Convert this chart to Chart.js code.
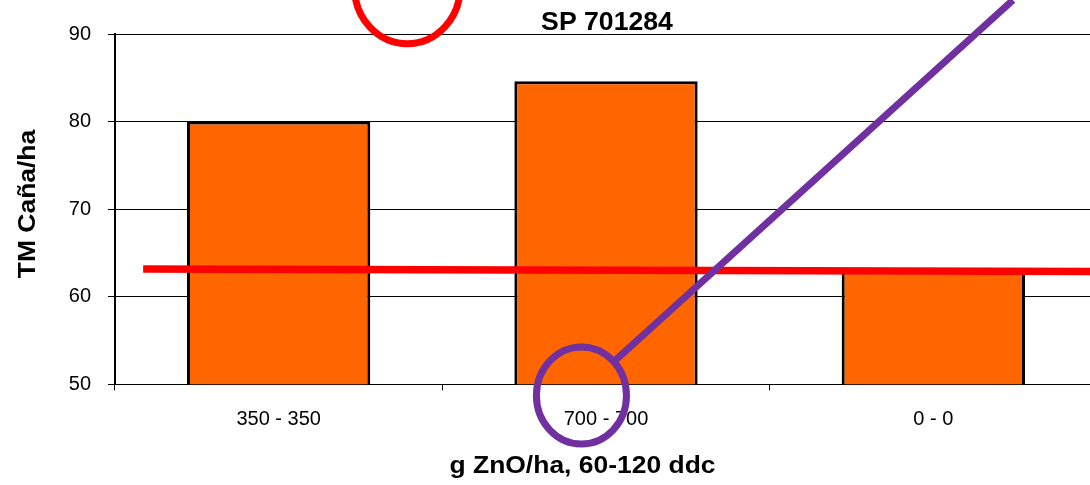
<!DOCTYPE html>
<html>
<head>
<meta charset="utf-8">
<script src="https://cdn.jsdelivr.net/npm/chart.js@4/dist/chart.umd.min.js"></script>
<style>
  html, body { margin: 0; padding: 0; background: #fff; overflow: hidden; }
  #wrap { width: 1097px; height: 485px; }
</style>
</head>
<body>
<div id="wrap"><canvas id="c" width="1097" height="485"></canvas></div>
<script>
// ---- data ----
const categories = ['350 - 350', '700 - 700', '0 - 0'];
const yieldValues = [80.0, 84.6, 62.9];
const yTickValues = [50, 60, 70, 80, 90];
const chartTitle = 'SP 701284';
const xAxisTitle = 'g ZnO/ha, 60-120 ddc';
const yAxisTitle = 'TM Caña/ha';

// hand-drawn annotations, in data units (category index, TM value)
const redLinePts = [[-0.414, 63.16], [2.482, 62.88]];
const purpleLinePts = [[1.029, 52.77], [2.243, 93.87]];
const redEllipse = [0.393, 95.35, 0.1615, 6.45];      // cx, cy, rx, ry
const purpleEllipse = [0.925, 48.72, 0.1376, 5.54];

const FONT = '"Liberation Sans", Arial, sans-serif';

const overlay = {
  id: 'overlay',
  afterDatasetsDraw(chart) {
    const ctx = chart.ctx;
    const xs = chart.scales.x, ys = chart.scales.y;
    const px = v => xs.getPixelForValue(v);
    const py = v => ys.getPixelForValue(v);
    ctx.save();
    ctx.lineCap = 'butt';
    ctx.strokeStyle = '#FF0000';
    ctx.lineWidth = 7.5;
    ctx.beginPath();
    ctx.moveTo(px(redLinePts[0][0]), py(redLinePts[0][1]));
    ctx.lineTo(px(redLinePts[1][0]), py(redLinePts[1][1]));
    ctx.stroke();
    ctx.strokeStyle = '#7030A0';
    ctx.lineWidth = 7;
    ctx.beginPath();
    ctx.moveTo(px(purpleLinePts[0][0]), py(purpleLinePts[0][1]));
    ctx.lineTo(px(purpleLinePts[1][0]), py(purpleLinePts[1][1]));
    ctx.stroke();
    const ell = (e, color) => {
      const cx = px(e[0]), cy = py(e[1]);
      const rx = Math.abs(px(e[0] + e[2]) - cx);
      const ry = Math.abs(py(e[1] + e[3]) - cy);
      ctx.strokeStyle = color;
      ctx.lineWidth = 7;
      ctx.beginPath();
      ctx.ellipse(cx, cy, rx, ry, 0, 0, Math.PI * 2);
      ctx.stroke();
    };
    ell(redEllipse, '#FF0000');
    ell(purpleEllipse, '#7030A0');
    ctx.restore();
  },
  afterDraw(chart) {
    const ctx = chart.ctx;
    const ca = chart.chartArea;
    ctx.save();
    ctx.fillStyle = '#000';
    ctx.textAlign = 'center';
    ctx.textBaseline = 'alphabetic';
    ctx.save();
    ctx.font = 'bold 25px ' + FONT;
    ctx.translate((ca.left + ca.right) / 2 + 1, 30);
    ctx.scale(1.065, 1);
    ctx.fillText(chartTitle, 0, 0);
    ctx.restore();
    ctx.save();
    ctx.font = 'bold 23px ' + FONT;
    ctx.translate(582.5, 473);
    ctx.scale(1.15, 1);
    ctx.fillText(xAxisTitle, 0, 0);
    ctx.restore();
    ctx.save();
    ctx.font = 'bold 23px ' + FONT;
    ctx.translate(35, 204);
    ctx.rotate(-Math.PI / 2);
    ctx.scale(1.15, 1);
    ctx.fillText(yAxisTitle, 0, 0);
    ctx.restore();
    ctx.restore();
  }
};

new Chart(document.getElementById('c'), {
  type: 'bar',
  data: {
    labels: categories,
    datasets: [{
      data: yieldValues,
      backgroundColor: '#FF6600',
      borderColor: '#000000',
      borderWidth: 3,
      borderSkipped: false,
      categoryPercentage: 1,
      barPercentage: 0.56
    }]
  },
  options: {
    responsive: false,
    animation: false,
    devicePixelRatio: 1,
    layout: { padding: { top: 34, left: 0, right: 0, bottom: 0 } },
    plugins: {
      legend: { display: false },
      title: { display: false },
      tooltip: { enabled: false }
    },
    scales: {
      x: {
        grid: { display: true, drawOnChartArea: false, drawTicks: true, tickLength: 6, color: '#000', lineWidth: 1 },
        border: { display: true, color: '#000', width: 1 },
        ticks: { color: '#000', font: { family: FONT, size: 20 }, padding: 17, maxRotation: 0 },
        afterFit(s) { s.height = 100.7; }
      },
      y: {
        min: 50, max: 90,
        afterBuildTicks(s) { s.ticks = yTickValues.map(v => ({ value: v })); },
        grid: { color: '#000', lineWidth: 1, tickLength: 7, drawTicks: true },
        border: { display: true, color: '#000', width: 2 },
        ticks: { color: '#000', font: { family: FONT, size: 20 }, padding: 17 },
        afterFit(s) { s.width = 115; }
      }
    }
  },
  plugins: [overlay]
});
</script>
</body>
</html>
